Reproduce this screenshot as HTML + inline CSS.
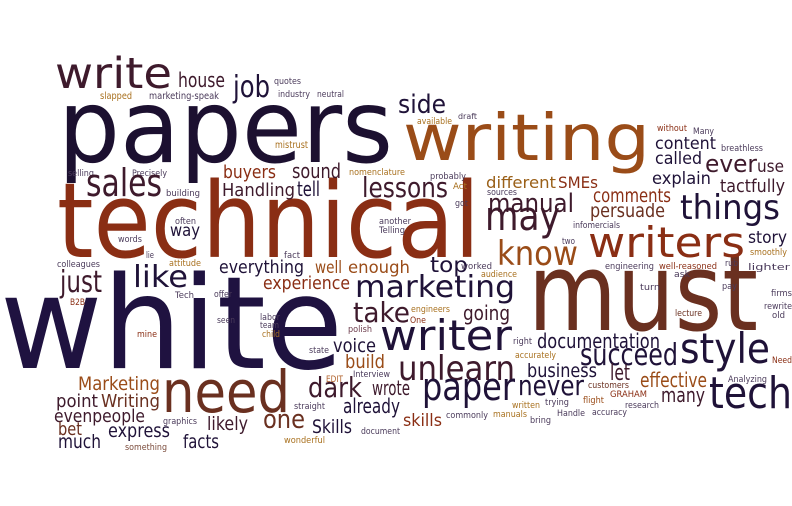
<!DOCTYPE html>
<html><head><meta charset="utf-8"><style>
html,body{margin:0;padding:0;background:#fff;}
svg{display:block;}
text{font-family:"DejaVu Sans","Liberation Sans",sans-serif;}
</style></head><body>
<svg id="cloud" width="792" height="506" viewBox="0 0 792 506" xmlns="http://www.w3.org/2000/svg"></svg>
<script>
const N="#1f1238",P="#3e1a2c",R="#8a2e14",B="#6a3020",O="#9a4c18",G="#a8701e",S="#4a3a5a";
const words=[
["papers",58,162,102,335,"#1c1030"],
["white",0,368,128,343,"#1f1240"],
["technical",57,257,104,423,R],
["must",528,330,108,230,B],
["writing",403,160,64,247,O],
["write",55,88,43,117,P],
["house",178,87,20,47,P],
["job",233,97,30,37,N],
["quotes",274,84,9,27,S],
["industry",278,97,9,32,S],
["neutral",317,97,9,27,S],
["slapped",100,99,10,32,G],
["marketing-speak",149,99,9.5,70,S],
["mistrust",275,148,9.5,33,G],
["selling",68,176,9,26,S],
["Precisely",132,176,9,35,S],
["buyers",223,178,18,53,R],
["sound",292,178,20,49,P],
["nomenclature",349,175,9,56,G],
["sales",86,196,38,76,P],
["building",166,196,9,34,S],
["Handling",222,196,18,73,P],
["tell",297,196,20,23,N],
["lessons",362,197,28,86,P],
["often",175,224,8.5,21,S],
["way",170,236,17,30,N],
["words",118,242,8.5,24,S],
["another",379,224,8.5,32,S],
["Telling",379,233,8.5,26,S],
["fact",284,258,8.5,16,S],
["lie",146,258,8.5,8,S],
["side",398,113,26,48,N],
["draft",458,119,8,19,S],
["available",417,124,8.5,35,G],
["without",657,131,8.5,30,R],
["Many",693,134,8.5,21,S],
["content",655,149,17,61,N],
["breathless",721,151,8.5,42,S],
["called",655,164,17,47,N],
["ever",705,172,24,52,P],
["use",757,172,17,27,P],
["probably",430,179,8.5,36,S],
["different",486,188,16,70,"#9a6018"],
["SMEs",558,188,16,40,R],
["explain",652,184,17,59,N],
["Act",453,189,8.5,14,G],
["tactfully",720,192,18,65,P],
["sources",487,195,8.5,30,S],
["comments",593,202,19,78,R],
["manual",488,212,26,86,P],
["got",455,206,8.5,13,S],
["persuade",590,217,19,75,B],
["things",680,219,34,100,N],
["may",485,230,40,75,P],
["infomercials",573,228,8.5,47,S],
["writers",588,257,42,157,R],
["story",748,243,17,39,N],
["two",562,244,8.5,13,S],
["know",497,265,34,81,O],
["smoothly",750,255,8.5,37,G],
["top",430,272,21,38,N],
["worked",461,269,8.5,31,S],
["engineering",605,269,8.5,49,S],
["well-reasoned",659,269,8.5,58,R],
["rub",725,266,8.5,13,S],
["lighter",748,270,8.5,42,S],
["audience",481,277,8.5,36,G],
["ask",674,277,8.5,16,S],
["marketing",355,297,30,160,N],
["turn",640,290,8.5,20,S],
["pay",722,289,8.5,15,S],
["firms",771,296,8.5,21,S],
["rewrite",764,309,8.5,28,S],
["old",772,318,8.5,13,S],
["lecture",675,316,8.5,27,B],
["engineers",411,312,8.5,39,G],
["One",410,323,8.5,16,R],
["going",463,320,20,47,P],
["writer",380,350,42,132,N],
["right",513,344,8.5,19,S],
["documentation",537,348,20,123,N],
["accurately",515,358,8.5,41,G],
["succeed",580,365,30,98,N],
["style",680,363,42,90,N],
["Need",772,363,8.5,20,R],
["unlearn",398,380,34,117,P],
["business",527,377,19,70,N],
["let",610,380,22,20,P],
["effective",640,387,20,67,O],
["Analyzing",728,382,8.5,39,S],
["tech",709,408,44,83,N],
["paper",422,400,38,93,N],
["never",518,395,28,66,N],
["customers",588,388,8.5,41,B],
["many",661,402,20,44,P],
["flight",583,403,8.5,21,O],
["GRAHAM",610,397,8.5,37,R],
["written",512,408,8.5,28,G],
["trying",545,405,8.5,24,S],
["research",625,408,8.5,34,S],
["skills",403,426,17,39,R],
["commonly",446,418,8.5,42,S],
["manuals",493,417,8.5,34,G],
["Handle",557,416,8.5,28,S],
["accuracy",592,415,8.5,35,S],
["bring",530,423,8.5,21,S],
["colleagues",57,267,8.5,43,S],
["attitude",169,266,8.5,32,G],
["like",133,287,30,55,N],
["everything",219,273,18,85,N],
["well",315,273,17,27,O],
["enough",348,273,17,62,O],
["just",60,292,30,42,P],
["experience",263,289,18,87,R],
["Tech",175,298,8.5,19,S],
["offer",214,297,8.5,18,S],
["B2B",70,305,8.5,15,R],
["seen",217,323,8.5,18,S],
["labor",260,320,8.5,20,S],
["team",260,328,8.5,19,S],
["child",262,337,8.5,18,G],
["mine",137,337,8.5,20,R],
["polish",348,332,8.5,24,"#6b3a4a"],
["take",353,322,28,57,P],
["state",309,353,8.5,20,S],
["voice",333,352,19,43,N],
["build",345,368,19,40,O],
["EDIT",326,382,8.5,17,"#b0602a"],
["Interview",353,377,8.5,37,S],
["Marketing",78,390,19,82,O],
["need",162,412,58,128,B],
["dark",308,397,28,54,P],
["wrote",372,395,20,38,P],
["point",56,407,18,42,P],
["Writing",101,407,18,59,B],
["straight",294,409,8.5,31,S],
["already",343,413,20,57,N],
["evenpeople",54,422,18,91,P],
["graphics",163,424,8.5,34,S],
["one",263,428,26,42,B],
["likely",207,430,19,41,P],
["Skills",312,433,19,40,N],
["document",361,434,8.5,39,S],
["bet",58,435,18,24,B],
["express",108,437,19,62,N],
["wonderful",284,443,8.5,41,G],
["much",58,448,19,43,N],
["facts",183,448,19,36,N],
["something",125,450,8.5,42,"#7a4a3a"]
];
const svg=document.getElementById('cloud');
const NS="http://www.w3.org/2000/svg";
for(const w of words){
  const t=document.createElementNS(NS,'text');
  t.setAttribute('x',w[1]);
  t.setAttribute('y',w[2]);
  t.setAttribute('font-size',w[3]);
  t.setAttribute('textLength',w[4]);
  t.setAttribute('lengthAdjust','spacingAndGlyphs');
  t.setAttribute('fill',w[5]);
  
  
  t.textContent=w[0];
  svg.appendChild(t);
}
</script>
</body></html>
